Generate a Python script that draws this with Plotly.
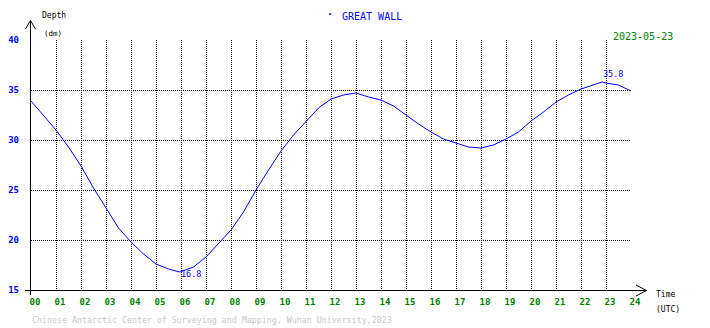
import plotly.graph_objects as go

# Data
hours = [0, 0.5, 1, 1.5, 2, 2.5, 3, 3.5, 4, 4.5, 5, 5.5, 5.95, 6.5, 7, 7.5, 8, 8.5,
         9, 9.5, 10, 10.5, 11, 11.5, 12, 12.5, 13, 13.5, 14, 14.5, 15, 15.5, 16,
         16.5, 17, 17.5, 18, 18.5, 19, 19.5, 20, 20.5, 21, 21.5, 22, 22.5, 22.85,
         23, 23.5, 24]
depth = [33.9, 32.5, 31.0, 29.3, 27.4, 25.2, 23.2, 21.2, 19.8, 18.6, 17.6, 17.1, 16.8,
         17.3, 18.3, 19.6, 21.0, 22.8, 25.0, 27.0, 28.9, 30.5, 31.8, 33.2, 34.1,
         34.5, 34.7, 34.3, 34.0, 33.4, 32.5, 31.6, 30.8, 30.1, 29.7, 29.3, 29.2,
         29.5, 30.1, 30.8, 31.9, 32.8, 33.8, 34.5, 35.1, 35.5, 35.8, 35.7, 35.5, 34.9]
hour_ticks = list(range(0, 25))
hour_labels = [f"{h:02d}" for h in hour_ticks]
depth_ticks = [15, 20, 25, 30, 35, 40]

OFF = 8  # page body margin of the browser
W, H = 710 - OFF, 328 - OFF
PW, PH = 600, 250
L, T = 31 - OFF, 40 - OFF
R, B = W - L - PW, H - T - PH


def px(x):
    return (x - OFF - L) / PW


def py(y):
    return (H - B - (y - OFF)) / PH


MONO = "DejaVu Sans Mono"
BLUE = "#0000ff"
GREEN = "#008000"

fig = go.Figure()
fig.add_trace(go.Scatter(x=hours, y=depth, mode="lines",
                         line=dict(color=BLUE, width=1), hoverinfo="skip"))

imax = depth.index(max(depth))
imin = depth.index(min(depth))

fig.update_layout(
    width=W, height=H, margin=dict(l=L, r=R, t=T, b=B, autoexpand=False),
    paper_bgcolor="white", plot_bgcolor="white", showlegend=False,
    font=dict(family=MONO, size=9, color="black"),
    xaxis=dict(range=[0, 24], tickvals=hour_ticks, ticktext=hour_labels,
               showgrid=True, gridcolor="black", gridwidth=1, griddash="1px,1px",
               zeroline=False, showline=False, ticks="", automargin=False,
               tickfont=dict(family=MONO, size=9, color=GREEN, weight="bold"),
               ticklabelshift=4, ticklabelstandoff=5),
    yaxis=dict(range=[15, 40], tickvals=depth_ticks,
               showgrid=True, gridcolor="black", gridwidth=1, griddash="1px,1px",
               zeroline=False, showline=False, ticks="", automargin=False,
               tickfont=dict(family=MONO, size=9, color=BLUE, weight="bold"),
               ticklabelstandoff=11),
)

line = dict(color="black", width=1)
shapes = [
    # y axis with arrow
    dict(type="line", xref="paper", yref="paper", x0=px(30.5), x1=px(30.5), y0=py(295), y1=py(20.5), line=line),
    dict(type="line", xref="paper", yref="paper", x0=px(25.5), x1=px(30.5), y0=py(29), y1=py(20.5), line=line),
    dict(type="line", xref="paper", yref="paper", x0=px(35.5), x1=px(30.5), y0=py(29), y1=py(20.5), line=line),
    # x axis with arrow
    dict(type="line", xref="paper", yref="paper", x0=px(25), x1=px(646.5), y0=py(290.5), y1=py(290.5), line=line),
    dict(type="line", xref="paper", yref="paper", x0=px(636), x1=px(646.5), y0=py(285), y1=py(290.5), line=line),
    dict(type="line", xref="paper", yref="paper", x0=px(636), x1=px(646.5), y0=py(296), y1=py(290.5), line=line),
]
fig.update_layout(shapes=shapes)


def ann(text, x, y, size, color, xanchor="left", weight="normal"):
    fig.add_annotation(text=text, xref="paper", yref="paper", x=px(x), y=py(y),
                       xanchor=xanchor, yanchor="middle", showarrow=False,
                       font=dict(family=MONO, size=size, color=color, weight=weight))


ann("GREAT WALL", 340, 16.5, 10, BLUE)
ann("·", 330, 15, 10, BLUE, xanchor="center", weight="bold")
ann("2023-05-23", 611, 37, 10, GREEN)
ann("Depth", 40, 16, 8, "black")
ann("(dm)", 41.5, 33.5, 7.5, "black")
ann("Time", 653.5, 294.5, 8, "black")
ann("(UTC)", 653.5, 309.5, 8, "black")
ann("Chinese Antarctic Center of Surveying and Mapping, Wuhan University,2023",
    30, 320, 8.3, "#c8c8c8")

# extreme labels
fig.add_annotation(text=f"{depth[imax]:.1f}", x=hours[imax], y=depth[imax],
                   xanchor="left", yanchor="bottom", yshift=1, xshift=-1, showarrow=False,
                   font=dict(family=MONO, size=8.5, color=BLUE))
fig.add_annotation(text=f"{depth[imin]:.1f}", x=hours[imin], y=depth[imin],
                   xanchor="left", yanchor="middle", yshift=-2, xshift=-1, showarrow=False,
                   font=dict(family=MONO, size=8.5, color=BLUE))

fig.write_html("out.html")
